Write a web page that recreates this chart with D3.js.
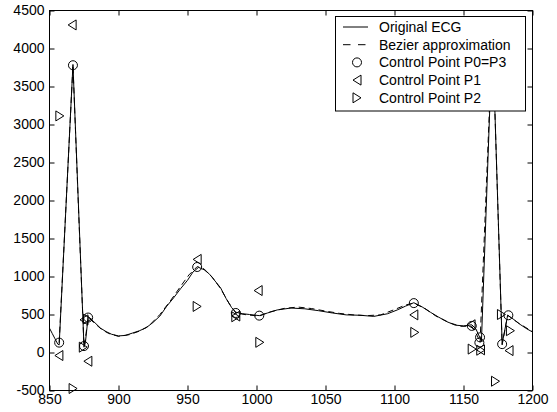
<!DOCTYPE html>
<html>
<head>
<meta charset="utf-8">
<script src="https://cdn.jsdelivr.net/npm/d3@7"></script>
<style>
  html, body { margin: 0; padding: 0; background: #fff; }
  svg { display: block; font-family: "Liberation Sans", Arial, sans-serif; }
  .axis text { font-size: 14px; fill: #000; }
  .axis line, .axis path { stroke: #000; }
</style>
</head>
<body>
<svg id="chart" width="557" height="412"></svg>
<script>
// ECG trace vs. its piecewise Bezier fit, with the fitted control points.

// original ECG (sample index, amplitude)
const ecgX = [850, 852, 854, 856, 857, 867, 875, 876, 878, 880, 883, 887, 891, 895, 900, 905, 910, 915, 920,
  925, 930, 935, 940, 945, 950, 954, 958, 962, 966, 970, 974, 978, 982, 985, 990, 995, 1002, 1008, 1015,
  1025, 1035, 1045, 1055, 1065, 1075, 1085, 1095, 1102, 1108, 1114, 1120, 1126, 1132, 1138, 1144, 1150,
  1156, 1159, 1161, 1163, 1171, 1178, 1182, 1186, 1191, 1196, 1200];
const ecgY = [320, 250, 180, 110, 100, 3790, 70, 130, 470, 440, 390, 320, 275, 240, 218, 225, 255, 285, 325,
  395, 480, 610, 720, 840, 950, 1060, 1120, 1090, 1030, 940, 850, 710, 590, 530, 510, 500, 485, 520, 560,
  585, 575, 550, 520, 495, 490, 475, 510, 560, 610, 655, 600, 530, 465, 405, 360, 350,
  365, 310, 230, 150, 4200, 115, 490, 440, 370, 310, 270];

// Bezier approximation
const bezX = [857, 862, 867, 871, 875, 876.5, 878, 883, 888, 893, 900, 908, 915, 922, 930, 938, 945, 951,
  957, 962, 968, 974, 980, 985, 993, 1002, 1010, 1020, 1030, 1040, 1050, 1060, 1070, 1080, 1090, 1100,
  1108, 1114, 1122, 1130, 1140, 1148, 1156, 1160, 1162, 1171, 1178, 1182, 1190, 1200];
const bezY = [130, 1950, 3780, 1900, 80, 250, 460, 380, 300, 250, 212, 235, 280, 350, 500, 690, 870, 1020,
  1130, 1100, 990, 840, 650, 520, 495, 480, 535, 580, 598, 578, 545, 515, 495, 485, 495, 565,
  625, 650, 580, 480, 390, 345, 345, 220, 130, 4200, 100, 490, 385, 275];

// control points
const p03X = [857, 867, 875, 878, 957, 985, 1002, 1114, 1156, 1162, 1161.5, 1171, 1178, 1182.5];
const p03Y = [130, 3780, 85, 460, 1125, 520, 485, 650, 350, 200, 130, 4200, 110, 490];
const p1X = [856.8, 866.4, 877.8, 875, 957, 985, 1001.2, 1114, 1155.5, 1162.3, 1183];
const p1Y = [-40, 4310, -115, 430, 1225, 480, 815, 495, 365, 35, 25];
const p2X = [857.5, 867.1, 874.5, 877.5, 957, 985, 1002.4, 1114.7, 1156.3, 1162.5, 1173.2, 1177.5, 1184];
const p2Y = [3113, -474, 70, 440, 606, 470, 134, 265, 45, 30, -378, 500, 287];

const xTicks = [850, 900, 950, 1000, 1050, 1100, 1150, 1200];
const yTicks = [-500, 0, 500, 1000, 1500, 2000, 2500, 3000, 3500, 4000, 4500];

const legendLabels = ['Original ECG', 'Bezier approximation', 'Control Point P0=P3', 'Control Point P1', 'Control Point P2'];

const svg = d3.select('#chart');
const x = d3.scaleLinear().domain([850, 1200]).range([49.5, 532.5]);
const y = d3.scaleLinear().domain([-500, 4500]).range([390.5, 10.5]);

const plot = svg.append('g');
svg.append('clipPath').attr('id', 'plotclip')
  .append('rect').attr('x', x(850)).attr('y', y(4500)).attr('width', x(1200) - x(850)).attr('height', y(-500) - y(4500));

const zip = (xs, ys) => xs.map((v, i) => [v, ys[i]]);
const line = d3.line().x(d => x(d[0])).y(d => y(d[1]));

plot.append('path').datum(zip(ecgX, ecgY))
  .attr('d', line).attr('fill', 'none').attr('stroke', '#000').attr('stroke-width', 1)
  .attr('clip-path', 'url(#plotclip)');
plot.append('path').datum(zip(bezX, bezY))
  .attr('d', line).attr('fill', 'none').attr('stroke', '#000').attr('stroke-width', 1)
  .attr('stroke-dasharray', '6,4').attr('clip-path', 'url(#plotclip)');

// marker shapes
const triLeft = 'M-4,0L4,-5L4,5Z';
const triRight = 'M4,0L-4,-5L-4,5Z';

plot.selectAll('circle.p03').data(zip(p03X, p03Y)).join('circle')
  .attr('class', 'p03')
  .attr('cx', d => x(d[0])).attr('cy', d => y(d[1])).attr('r', 4.5)
  .attr('fill', 'none').attr('stroke', '#000');
plot.selectAll('path.p1').data(zip(p1X, p1Y)).join('path')
  .attr('class', 'p1')
  .attr('transform', d => `translate(${x(d[0])},${y(d[1])})`)
  .attr('d', triLeft).attr('fill', 'none').attr('stroke', '#000');
plot.selectAll('path.p2').data(zip(p2X, p2Y)).join('path')
  .attr('class', 'p2')
  .attr('transform', d => `translate(${x(d[0])},${y(d[1])})`)
  .attr('d', triRight).attr('fill', 'none').attr('stroke', '#000');

// axes: ticks point inward on all four sides
const fmt = d => String(d);
svg.append('g').attr('class', 'axis').attr('transform', `translate(0,${y(-500)})`)
  .call(d3.axisBottom(x).tickValues(xTicks).tickFormat(fmt).tickSize(-5).tickSizeOuter(0).tickPadding(4));
svg.append('g').attr('class', 'axis').attr('transform', `translate(${x(850)},0)`)
  .call(d3.axisLeft(y).tickValues(yTicks).tickFormat(fmt).tickSize(-5).tickSizeOuter(0).tickPadding(5));
svg.append('g').attr('class', 'axis').attr('transform', `translate(0,${y(4500)})`)
  .call(d3.axisTop(x).tickValues(xTicks).tickFormat('').tickSize(-5).tickSizeOuter(0));
svg.append('g').attr('class', 'axis').attr('transform', `translate(${x(1200)},0)`)
  .call(d3.axisRight(y).tickValues(yTicks).tickFormat('').tickSize(-5).tickSizeOuter(0));
svg.selectAll('.axis path.domain').remove();

svg.append('rect')
  .attr('x', x(850)).attr('y', y(4500))
  .attr('width', x(1200) - x(850)).attr('height', y(-500) - y(4500))
  .attr('fill', 'none').attr('stroke', '#000');

// legend
const lg = svg.append('g').attr('transform', 'translate(335.5,16.5)');
lg.append('rect').attr('width', 190).attr('height', 94.5).attr('fill', '#fff').attr('stroke', '#000');
const rowY = i => 10.5 + i * 17.7;
legendLabels.forEach((t, i) => {
  lg.append('text').attr('x', 43.5).attr('y', rowY(i)).attr('dy', '0.36em')
    .attr('font-size', 14).text(t);
});
lg.append('line').attr('x1', 7.5).attr('x2', 32.5).attr('y1', rowY(0)).attr('y2', rowY(0)).attr('stroke', '#000');
lg.append('line').attr('x1', 7.5).attr('x2', 32.5).attr('y1', rowY(1)).attr('y2', rowY(1))
  .attr('stroke', '#000').attr('stroke-dasharray', '7.5,7.5');
lg.append('circle').attr('cx', 21.5).attr('cy', rowY(2)).attr('r', 4.5).attr('fill', 'none').attr('stroke', '#000');
lg.append('path').attr('transform', `translate(21.5,${rowY(3)})`).attr('d', triLeft).attr('fill', 'none').attr('stroke', '#000');
lg.append('path').attr('transform', `translate(21.5,${rowY(4)})`).attr('d', triRight).attr('fill', 'none').attr('stroke', '#000');
</script>
</body>
</html>
